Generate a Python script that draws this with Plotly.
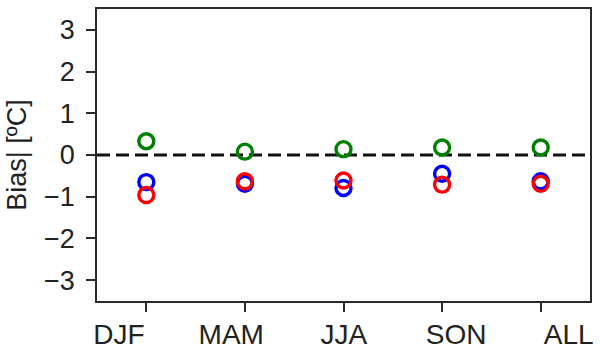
import plotly.graph_objects as go

# Seasonal mean bias of three runs
seasons = ["DJF", "MAM", "JJA", "SON", "ALL"]
bias_blue = [-0.65, -0.69, -0.79, -0.45, -0.63]
bias_red = [-0.96, -0.63, -0.61, -0.71, -0.69]
bias_green = [0.33, 0.08, 0.14, 0.18, 0.18]
y_ticks = [-3, -2, -1, 0, 1, 2, 3]

FONT = "Liberation Sans, Arial, sans-serif"
AXIS_COLOR = "#2b2b2b"
x_pos = list(range(len(seasons)))

fig = go.Figure()

# zero reference line
fig.add_shape(type="line", xref="paper", yref="y", x0=0, x1=1, y0=0, y1=0,
              line=dict(color="#111111", width=3, dash="13px,6px"), layer="below")

for vals, color, name in [(bias_blue, "blue", "run 1"),
                          (bias_red, "red", "run 2"),
                          (bias_green, "green", "run 3")]:
    fig.add_trace(go.Scatter(
        x=x_pos, y=vals, mode="markers", name=name,
        marker=dict(symbol="circle-open", size=15, color=color,
                    line=dict(color=color, width=3.4)),
        showlegend=False, cliponaxis=False,
    ))

# invisible trace carrying the season label axis
fig.add_trace(go.Scatter(x=[0], y=[None], xaxis="x2", showlegend=False,
                         hoverinfo="skip", mode="markers"))

fig.update_layout(
    width=600, height=357,
    margin=dict(l=97, r=8, t=7, b=53),
    paper_bgcolor="white", plot_bgcolor="white",
    font=dict(family=FONT, size=26, color="#222222"),
    xaxis=dict(
        range=[-0.5, 4.5], tickvals=x_pos, showticklabels=False,
        ticks="outside", ticklen=9, tickwidth=1.5, tickcolor=AXIS_COLOR,
        showline=True, linecolor=AXIS_COLOR, linewidth=1.8, mirror=True,
        showgrid=False, zeroline=False,
    ),
    xaxis2=dict(
        overlaying="x", anchor="y", side="bottom",
        range=[-0.194, 4.19], tickvals=x_pos, ticktext=seasons,
        ticks="", showline=False, showgrid=False, zeroline=False,
        ticklabelstandoff=14, tickfont=dict(size=28),
    ),
    yaxis=dict(
        range=[-3.5, 3.5], tickvals=y_ticks,
        ticks="outside", ticklen=9, tickwidth=1.5, tickcolor=AXIS_COLOR,
        showline=True, linecolor=AXIS_COLOR, linewidth=1.8, mirror=True,
        showgrid=False, zeroline=False, ticklabelstandoff=6,
        tickfont=dict(size=27),
        title=dict(text="Bias| [ºC]", font=dict(size=27), standoff=9),
    ),
)

fig.write_html("out.html")
